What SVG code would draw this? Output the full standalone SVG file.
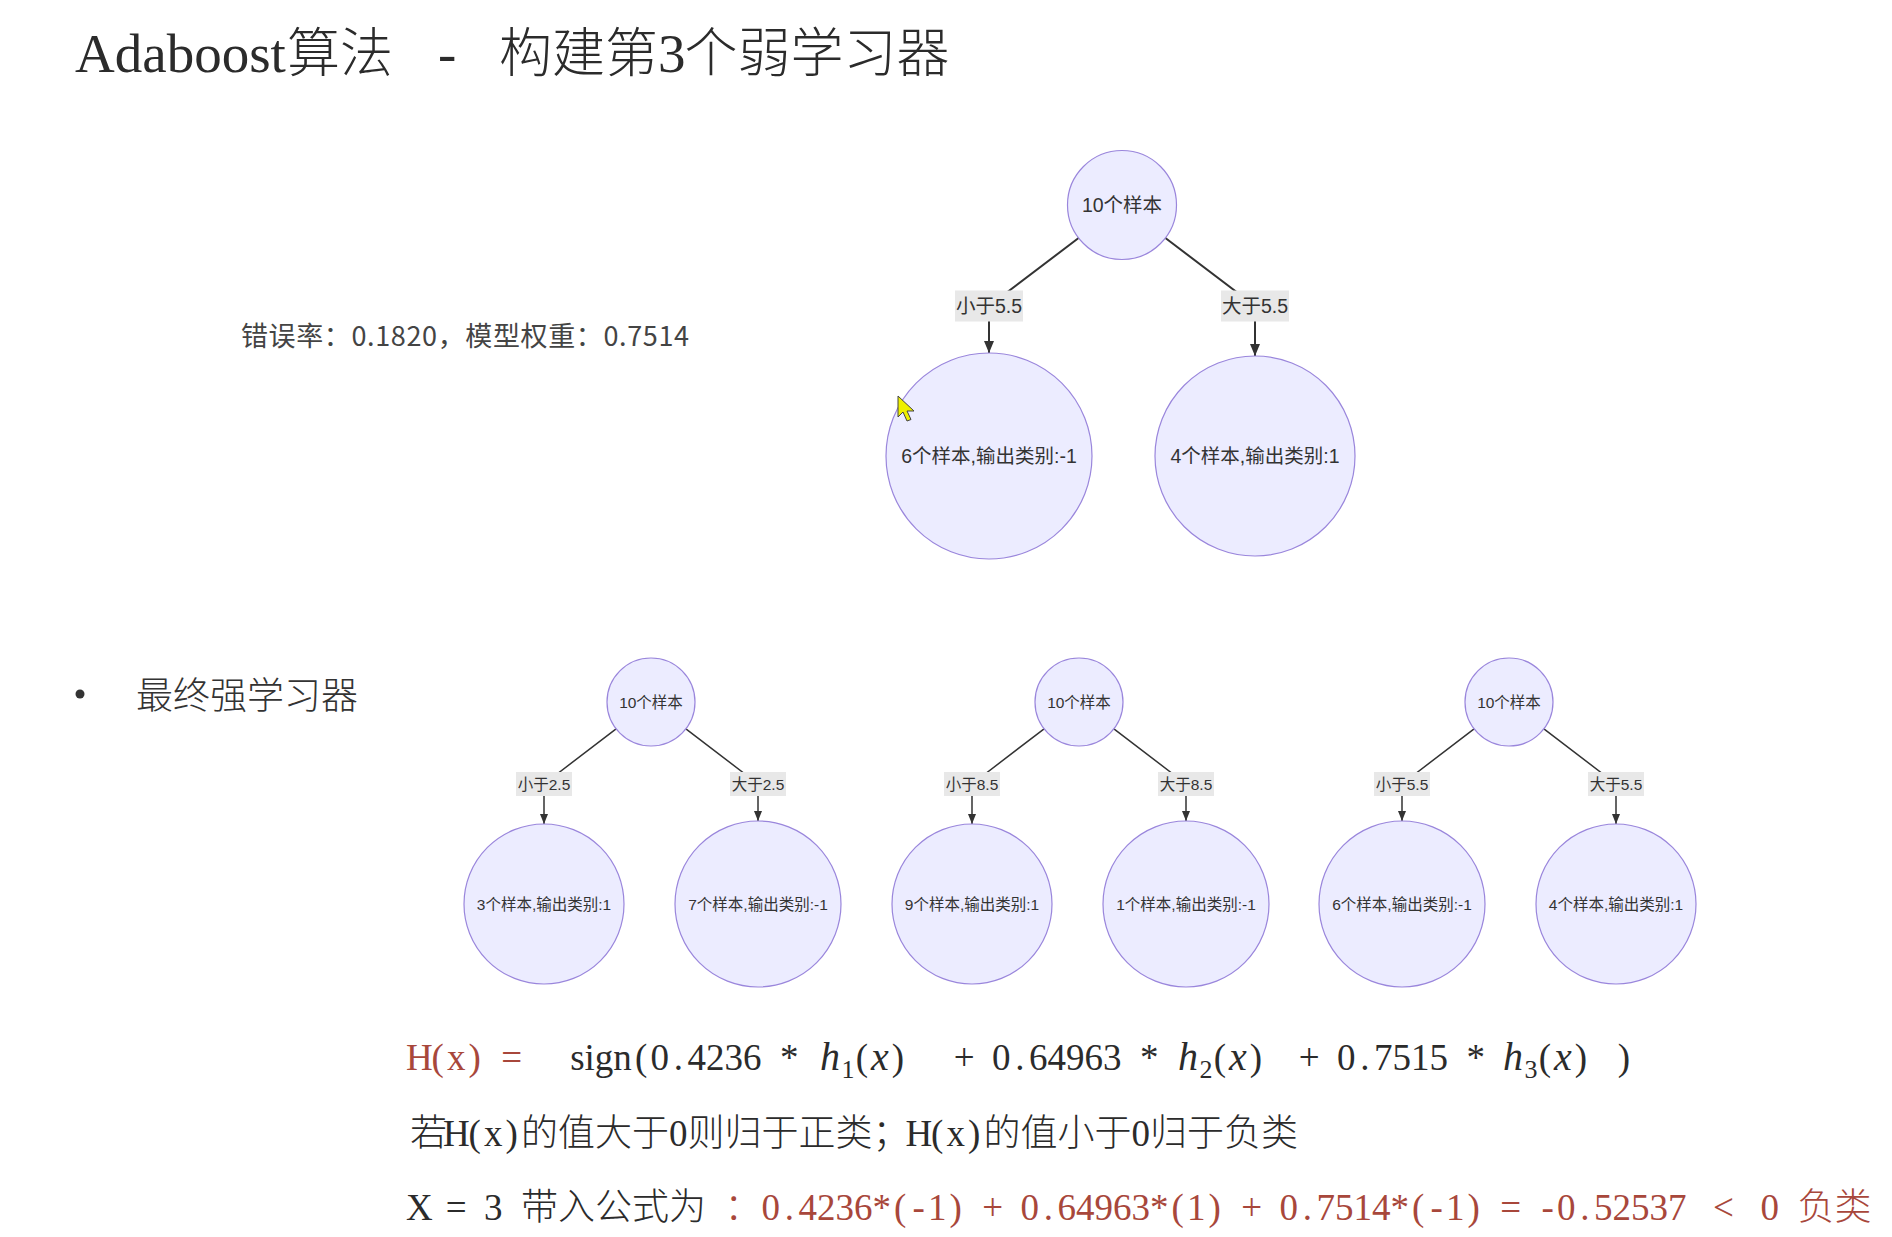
<svg xmlns="http://www.w3.org/2000/svg" width="1892" height="1237" viewBox="0 0 1892 1237">
<style>
.node circle{fill:#ECECFF;stroke:#9a86dc;stroke-width:1.2}
.t{font-family:"Liberation Sans","Noto Sans CJK SC",sans-serif;fill:#333;text-anchor:middle;dominant-baseline:central}
.lbl rect{fill:#e8e8e8}
.edge{fill:none;stroke:#333}
.big{stroke-width:2}
.small{stroke-width:1.5}
.cjk{font-family:"Noto Sans CJK SC",sans-serif;font-weight:300}
.lat{font-family:"Liberation Serif","Noto Sans CJK SC",serif}
.mi{font-family:"Liberation Serif",serif;font-style:italic}
.red{fill:#a8473b}
.f{fill:#2b2b2b;text-anchor:middle;font-size:37px}
.ttl{fill:#2b2b2b;font-size:53px}
</style>
<defs>
<marker id="arL" markerUnits="userSpaceOnUse" markerWidth="12" markerHeight="10" refX="12" refY="5" orient="auto"><path d="M0,0 L12,5 L0,10 z" fill="#333"/></marker>
<marker id="arS" markerUnits="userSpaceOnUse" markerWidth="10" markerHeight="8" refX="10" refY="4" orient="auto"><path d="M0,0 L10,4 L0,8 z" fill="#333"/></marker>
</defs>
<rect width="1892" height="1237" fill="#ffffff"/>

<text id="title" class="ttl" y="72"><tspan class="lat" style="font-size:55px" x="75">Adaboost</tspan><tspan class="cjk" x="287 340">算法</tspan><tspan class="lat" style="font-size:55px" x="410 438 466"> - </tspan><tspan class="cjk" x="499 552 605">构建第</tspan><tspan class="lat" style="font-size:55px" x="658">3</tspan><tspan class="cjk" x="684.5 737.5 790.5 843.5 896.5">个弱学习器</tspan></text>

<text id="stats" x="241" y="346" font-size="27" fill="#444" font-family="'Noto Sans CJK SC',sans-serif" textLength="448" lengthAdjust="spacing">错误率：0.1820，模型权重：0.7514</text>

<circle cx="80" cy="694" r="4.5" fill="#333"/>
<text id="bullet-text" x="136" y="709" font-size="37" fill="#333" class="cjk">最终强学习器</text>

<g id="connectors">
<g id="e-top-l"><path class="edge big" d="M1078.6,238 L989,306 L989,353" marker-end="url(#arL)"/><g class="lbl"><rect x="955" y="290.5" width="68" height="31"/><text class="t" x="989" y="306" font-size="19.5">小于5.5</text></g></g>
<g id="e-top-r"><path class="edge big" d="M1165.4,238 L1255,306 L1255,356" marker-end="url(#arL)"/><g class="lbl"><rect x="1221" y="290.5" width="68" height="31"/><text class="t" x="1255" y="306" font-size="19.5">大于5.5</text></g></g>

<g id="e-a-l"><path class="edge small" d="M616.1,728.8 L544,784 L544,824" marker-end="url(#arS)"/><g class="lbl"><rect x="516" y="772" width="56" height="24"/><text class="t" x="544" y="784" font-size="15.5">小于2.5</text></g></g>
<g id="e-a-r"><path class="edge small" d="M685.9,728.8 L758,784 L758,821" marker-end="url(#arS)"/><g class="lbl"><rect x="730" y="772" width="56" height="24"/><text class="t" x="758" y="784" font-size="15.5">大于2.5</text></g></g>

<g id="e-b-l"><path class="edge small" d="M1044.1,728.8 L972,784 L972,824" marker-end="url(#arS)"/><g class="lbl"><rect x="944" y="772" width="56" height="24"/><text class="t" x="972" y="784" font-size="15.5">小于8.5</text></g></g>
<g id="e-b-r"><path class="edge small" d="M1113.9,728.8 L1186,784 L1186,821" marker-end="url(#arS)"/><g class="lbl"><rect x="1158" y="772" width="56" height="24"/><text class="t" x="1186" y="784" font-size="15.5">大于8.5</text></g></g>

<g id="e-c-l"><path class="edge small" d="M1474.1,728.8 L1402,784 L1402,821" marker-end="url(#arS)"/><g class="lbl"><rect x="1374" y="772" width="56" height="24"/><text class="t" x="1402" y="784" font-size="15.5">小于5.5</text></g></g>
<g id="e-c-r"><path class="edge small" d="M1543.9,728.8 L1616,784 L1616,824" marker-end="url(#arS)"/><g class="lbl"><rect x="1588" y="772" width="56" height="24"/><text class="t" x="1616" y="784" font-size="15.5">大于5.5</text></g></g>
</g>

<g id="top-root" class="node"><circle cx="1122" cy="205" r="54.5"/><text class="t" x="1122" y="205" font-size="19.5">10个样本</text></g>
<g id="top-left" class="node"><circle cx="989" cy="456" r="103"/><text class="t" x="989" y="456" font-size="19.5">6个样本,输出类别:-1</text></g>
<g id="top-right" class="node"><circle cx="1255" cy="456" r="100"/><text class="t" x="1255" y="456" font-size="19.5">4个样本,输出类别:1</text></g>

<g id="a-root" class="node"><circle cx="651" cy="702" r="44"/><text class="t" x="651" y="702" font-size="15.5">10个样本</text></g>
<g id="a-left" class="node"><circle cx="544" cy="904" r="80"/><text class="t" x="544" y="904" font-size="15.5">3个样本,输出类别:1</text></g>
<g id="a-right" class="node"><circle cx="758" cy="904" r="83"/><text class="t" x="758" y="904" font-size="15.5">7个样本,输出类别:-1</text></g>

<g id="b-root" class="node"><circle cx="1079" cy="702" r="44"/><text class="t" x="1079" y="702" font-size="15.5">10个样本</text></g>
<g id="b-left" class="node"><circle cx="972" cy="904" r="80"/><text class="t" x="972" y="904" font-size="15.5">9个样本,输出类别:1</text></g>
<g id="b-right" class="node"><circle cx="1186" cy="904" r="83"/><text class="t" x="1186" y="904" font-size="15.5">1个样本,输出类别:-1</text></g>

<g id="c-root" class="node"><circle cx="1509" cy="702" r="44"/><text class="t" x="1509" y="702" font-size="15.5">10个样本</text></g>
<g id="c-left" class="node"><circle cx="1402" cy="904" r="83"/><text class="t" x="1402" y="904" font-size="15.5">6个样本,输出类别:-1</text></g>
<g id="c-right" class="node"><circle cx="1616" cy="904" r="80"/><text class="t" x="1616" y="904" font-size="15.5">4个样本,输出类别:1</text></g>

<path id="cursor" d="M898,396 L898,417 L903,412 L907,421 L911,419.5 L907,411 L914,411 Z" fill="#eef000" stroke="#444" stroke-width="1"/>

<text id="formula" class="f" y="1070"><tspan class="lat red" x="419.25 437.75 456.25 474.75 493.25 511.75">H(x) =</tspan><tspan class="lat" x="539.5 601"> sign</tspan><tspan class="lat" x="641.25 659.75 678.25 696.75 715.25 733.75 752.25 770.75 789.25 807.75">(0.4236 * </tspan><tspan class="mi" style="font-size:40px" x="830">h</tspan><tspan class="lat" style="font-size:26px" x="848" y="1078">1</tspan><tspan class="lat" x="862" y="1070">(</tspan><tspan class="mi" style="font-size:40px" x="880">x</tspan><tspan class="lat" x="898">)</tspan><tspan class="lat" x="945 964.25 982.75 1001.25 1019.75 1038.25 1056.75 1075.25 1093.75 1112.25 1130.75 1149.25 1167.75"> + 0.64963 * </tspan><tspan class="mi" style="font-size:40px" x="1188">h</tspan><tspan class="lat" style="font-size:26px" x="1206" y="1078">2</tspan><tspan class="lat" x="1220" y="1070">(</tspan><tspan class="mi" style="font-size:40px" x="1238">x</tspan><tspan class="lat" x="1256">)</tspan><tspan class="lat" x="1290 1309.25 1327.75 1346.25 1364.75 1383.25 1401.75 1420.25 1438.75 1457.25 1475.75 1494.25"> + 0.7515 * </tspan><tspan class="mi" style="font-size:40px" x="1513">h</tspan><tspan class="lat" style="font-size:26px" x="1531" y="1078">3</tspan><tspan class="lat" x="1545" y="1070">(</tspan><tspan class="mi" style="font-size:40px" x="1563">x</tspan><tspan class="lat" x="1581">)</tspan><tspan class="lat" x="1605 1624"> )</tspan></text>

<text id="rule" class="f" y="1146"><tspan class="cjk" x="428.5">若</tspan><tspan class="lat" x="456.25 474.75 493.25 511.75">H(x)</tspan><tspan class="cjk" x="539.5 576.5 613.5 650.5">的值大于</tspan><tspan class="lat" x="678.25">0</tspan><tspan class="cjk" x="706 743 780 817 854 891">则归于正类；</tspan><tspan class="lat" x="918.75 937.25 955.75 974.25">H(x)</tspan><tspan class="cjk" x="1002 1039 1076 1113">的值小于</tspan><tspan class="lat" x="1140.75">0</tspan><tspan class="cjk" x="1168.5 1205.5 1242.5 1279.5">归于负类</tspan></text>

<text id="example" class="f" y="1220"><tspan class="lat" x="419.25 437.75 456.25 474.75 493.25 511.75">X = 3 </tspan><tspan class="cjk" x="539.5 576.5 613.5 650.5 687.5 715.25">带入公式为 </tspan><tspan class="cjk red" x="743">：</tspan><tspan class="lat red" x="770.75 789.25 807.75 826.25 844.75 863.25 881.75 900.25 918.75 937.25 955.75 974.25 992.75 1011.25 1029.75 1048.25 1066.75 1085.25 1103.75 1122.25 1140.75 1159.25 1177.75 1196.25 1214.75 1233.25 1251.75 1270.25 1288.75 1307.25 1325.75 1344.25 1362.75 1381.25 1399.75 1418.25 1436.75 1455.25 1473.75 1492.25 1510.75 1529.25 1547.75 1566.25 1584.75 1603.25 1621.75 1640.25 1658.75 1677.25 1695.75 1723.5 1746 1769.75 1788.25">0.4236*(-1) + 0.64963*(1) + 0.7514*(-1) = -0.52537 &lt; 0 </tspan><tspan class="cjk red" x="1816 1853">负类</tspan></text>
</svg>
